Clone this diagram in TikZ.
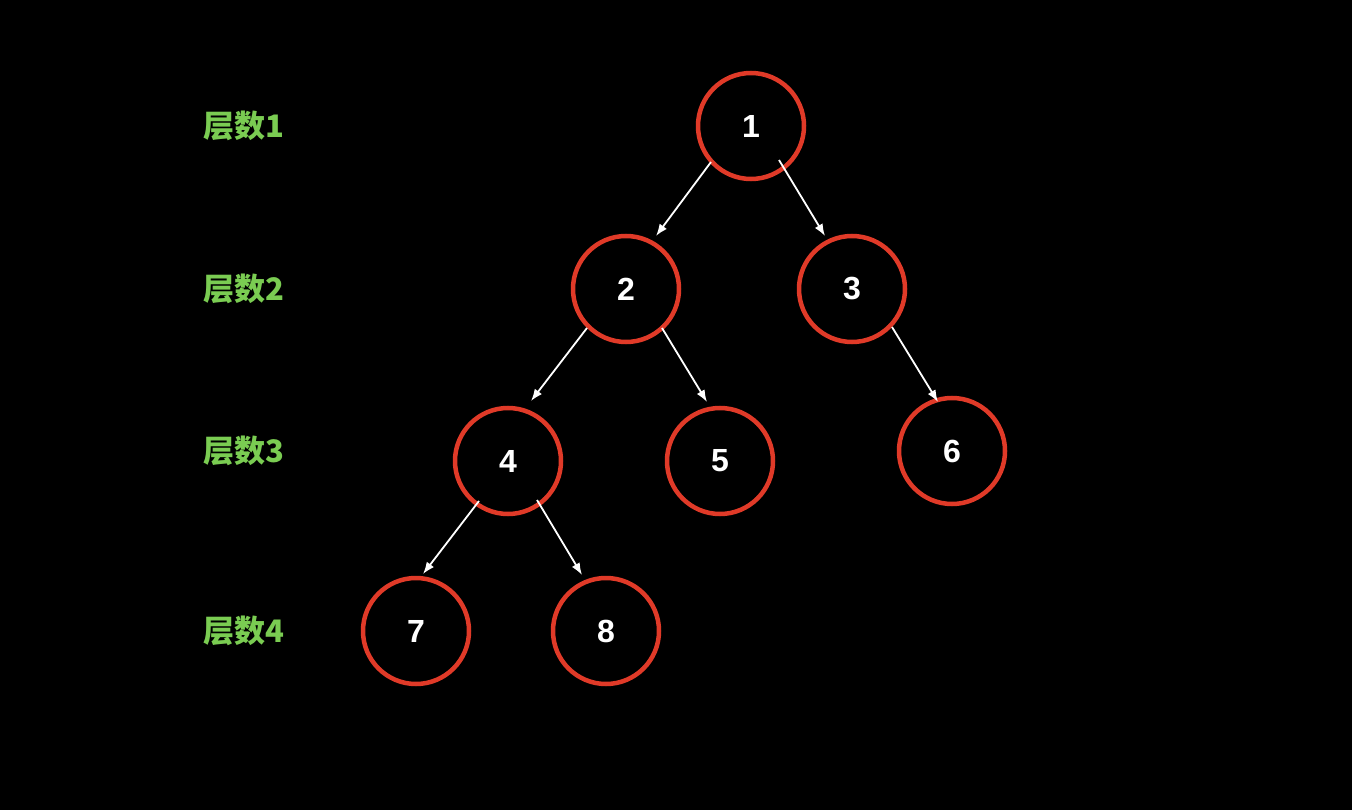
\documentclass[tikz,border=0pt]{standalone}
\usepackage{fontspec}
\setmainfont{Liberation Sans}
\newfontfamily\cjkfont{Noto Sans CJK SC}
\usetikzlibrary{calc,arrows.meta}
\tikzset{>={Latex[length=12pt,width=9pt]}}
\definecolor{ringred}{RGB}{224,58,40}
\definecolor{layergreen}{RGB}{122,204,82}

\begin{document}
\begin{tikzpicture}[x=1pt,y=-1pt,
    treenode/.style={circle,draw=ringred,line width=4.5pt,minimum size=106pt,inner sep=0pt,
      text=white,font=\fontsize{32}{32}\selectfont\bfseries},
    layerlabel/.style={anchor=west,text=layergreen,font=\fontsize{31}{31}\selectfont\cjkfont\bfseries},
    link/.style={->,white,line width=1.8pt}]
  \fill[black] (0,0) rectangle (1352,810);
  % layer labels
  \node[layerlabel] (l1) at (200,126) {层数1};
  \node[layerlabel] (l2) at (200,289) {层数2};
  \node[layerlabel] (l3) at (200,451) {层数3};
  \node[layerlabel] (l4) at (200,631) {层数4};
  % tree nodes
  \node[treenode] (n1) at (751,126) {1};
  \node[treenode] (n2) at (626,289) {2};
  \node[treenode] (n3) at (852,289) {3};
  \node[treenode] (n4) at (508,461) {4};
  \node[treenode] (n5) at (720,461) {5};
  \node[treenode] (n6) at (952,451) {6};
  \node[treenode] (n7) at (416,631) {7};
  \node[treenode] (n8) at (606,631) {8};
  % links
  \draw[link] ($(n1)+(-40,36)$) -- ($(n2)+(30,-53)$);
  \draw[link] ($(n1)+(28,34)$) -- ($(n3)+(-27,-53)$);
  \draw[link] ($(n2)+(-39,39)$) -- ($(n4)+(23,-60)$);
  \draw[link] ($(n2)+(36,39)$) -- ($(n5)+(-13,-59)$);
  \draw[link] ($(n3)+(40,38)$) -- ($(n6)+(-14,-49)$);
  \draw[link] ($(n4)+(-29,40)$) -- ($(n7)+(7,-57)$);
  \draw[link] ($(n4)+(29,39)$) -- ($(n8)+(-24,-56)$);
\end{tikzpicture}
\end{document}
